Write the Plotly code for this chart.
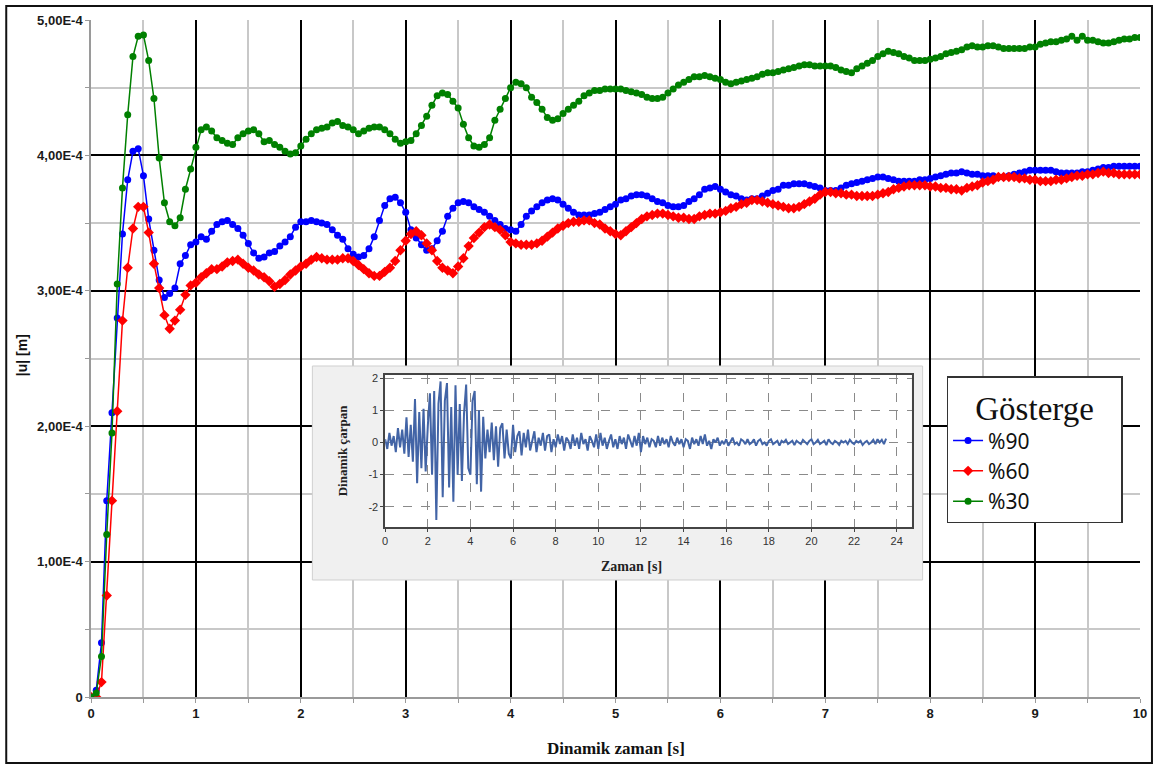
import plotly.graph_objects as go

# ---------------- main chart data (|u| in units of 1E-4 m) ----------------
t_main = [round(0.05 * i, 2) for i in range(201)]

u90 = [
    0.0, 0.05, 0.40, 1.45, 2.10, 2.80, 3.42, 3.82, 4.03, 4.05, 3.85, 3.53, 3.30, 3.08, 2.95, 2.98, 3.02, 3.20, 3.26, 3.34,
    3.36, 3.40, 3.38, 3.44, 3.49, 3.51, 3.52, 3.49, 3.46, 3.41, 3.35, 3.28, 3.24, 3.25, 3.28, 3.29, 3.33, 3.36, 3.40, 3.47,
    3.51, 3.51, 3.52, 3.51, 3.50, 3.49, 3.45, 3.41, 3.38, 3.31, 3.27, 3.25, 3.26, 3.31, 3.40, 3.52, 3.63, 3.68, 3.69, 3.65,
    3.58, 3.45, 3.39, 3.34, 3.30, 3.31, 3.37, 3.44, 3.55, 3.61, 3.65, 3.66, 3.65, 3.62, 3.60, 3.58, 3.55, 3.52, 3.49, 3.46,
    3.45, 3.44, 3.49, 3.55, 3.59, 3.62, 3.65, 3.67, 3.68, 3.67, 3.64, 3.61, 3.58, 3.56, 3.56, 3.56, 3.57, 3.58, 3.60, 3.62,
    3.64, 3.67, 3.68, 3.70, 3.71, 3.71, 3.70, 3.68, 3.66, 3.65, 3.63, 3.62, 3.62, 3.63, 3.66, 3.68, 3.71, 3.75, 3.76, 3.77,
    3.75, 3.73, 3.71, 3.70, 3.68, 3.67, 3.68, 3.68, 3.70, 3.72, 3.74, 3.75, 3.78, 3.78, 3.79, 3.79, 3.79, 3.78, 3.77, 3.76,
    3.74, 3.74, 3.74, 3.76, 3.78, 3.79, 3.80, 3.81, 3.82, 3.83, 3.84, 3.84, 3.83, 3.82, 3.81, 3.81, 3.81, 3.81, 3.82, 3.82,
    3.83, 3.84, 3.85, 3.86, 3.87, 3.87, 3.88, 3.87, 3.86, 3.86, 3.85, 3.85, 3.85, 3.84, 3.84, 3.85, 3.86, 3.87, 3.88, 3.89,
    3.89, 3.89, 3.89, 3.89, 3.88, 3.87, 3.87, 3.87, 3.87, 3.88, 3.88, 3.89, 3.90, 3.91, 3.91, 3.92, 3.92, 3.92, 3.92, 3.92,
    3.92,
]

u60 = [
    0.0, 0.0, 0.11, 0.75, 1.45, 2.11, 2.78, 3.17, 3.46, 3.62, 3.62, 3.43, 3.20, 3.02, 2.82, 2.72, 2.78, 2.86, 2.97, 3.04,
    3.06, 3.10, 3.13, 3.16, 3.16, 3.18, 3.21, 3.22, 3.23, 3.20, 3.17, 3.15, 3.12, 3.10, 3.07, 3.03, 3.05, 3.08, 3.12, 3.15,
    3.18, 3.20, 3.23, 3.25, 3.24, 3.23, 3.23, 3.23, 3.24, 3.24, 3.22, 3.19, 3.16, 3.13, 3.11, 3.11, 3.14, 3.17, 3.22, 3.30,
    3.37, 3.42, 3.44, 3.41, 3.35, 3.30, 3.22, 3.17, 3.15, 3.13, 3.18, 3.24, 3.33, 3.39, 3.43, 3.47, 3.49, 3.47, 3.45, 3.41,
    3.36, 3.35, 3.34, 3.34, 3.34, 3.35, 3.37, 3.40, 3.43, 3.46, 3.48, 3.50, 3.51, 3.51, 3.52, 3.52, 3.50, 3.49, 3.46, 3.44,
    3.42, 3.41, 3.44, 3.47, 3.50, 3.53, 3.55, 3.56, 3.57, 3.57, 3.56, 3.55, 3.54, 3.54, 3.53, 3.53, 3.55, 3.56, 3.57, 3.57,
    3.58, 3.59, 3.61, 3.62, 3.64, 3.65, 3.67, 3.67, 3.66, 3.65, 3.64, 3.63, 3.62, 3.61, 3.61, 3.62, 3.64, 3.66, 3.68, 3.71,
    3.73, 3.73, 3.72, 3.72, 3.71, 3.71, 3.70, 3.70, 3.70, 3.70, 3.71, 3.72, 3.73, 3.75, 3.76, 3.77, 3.78, 3.78, 3.78, 3.78,
    3.77, 3.77, 3.76, 3.76, 3.75, 3.75, 3.74, 3.76, 3.77, 3.78, 3.80, 3.81, 3.82, 3.84, 3.84, 3.84, 3.84, 3.83, 3.83, 3.82,
    3.82, 3.81, 3.81, 3.81, 3.82, 3.82, 3.83, 3.84, 3.85, 3.85, 3.86, 3.86, 3.87, 3.88, 3.87, 3.87, 3.86, 3.86, 3.86, 3.86,
    3.86,
]

u30 = [
    0.0, 0.03, 0.30, 1.20, 1.95, 3.05, 3.76, 4.30, 4.73, 4.88, 4.89, 4.70, 4.42, 3.98, 3.65, 3.51, 3.48, 3.54, 3.75, 3.90,
    4.06, 4.19, 4.21, 4.18, 4.13, 4.11, 4.09, 4.08, 4.13, 4.16, 4.18, 4.19, 4.16, 4.10, 4.11, 4.08, 4.06, 4.03, 4.01, 4.02,
    4.07, 4.12, 4.16, 4.19, 4.20, 4.21, 4.24, 4.25, 4.22, 4.21, 4.19, 4.16, 4.18, 4.20, 4.21, 4.21, 4.19, 4.16, 4.12, 4.09,
    4.10, 4.11, 4.16, 4.22, 4.29, 4.37, 4.44, 4.46, 4.45, 4.40, 4.35, 4.23, 4.13, 4.07, 4.06, 4.08, 4.13, 4.26, 4.34, 4.42,
    4.50, 4.54, 4.53, 4.50, 4.43, 4.39, 4.34, 4.28, 4.26, 4.27, 4.31, 4.34, 4.37, 4.40, 4.44, 4.46, 4.48, 4.48, 4.49, 4.49,
    4.49, 4.49, 4.48, 4.47, 4.46, 4.45, 4.43, 4.42, 4.42, 4.43, 4.46, 4.49, 4.52, 4.54, 4.56, 4.58, 4.58, 4.59, 4.58, 4.57,
    4.56, 4.54, 4.53, 4.54, 4.55, 4.56, 4.57, 4.58, 4.60, 4.61, 4.61, 4.62, 4.63, 4.64, 4.65, 4.66, 4.67, 4.67, 4.66, 4.66,
    4.66, 4.66, 4.65, 4.63, 4.62, 4.61, 4.64, 4.66, 4.68, 4.70, 4.73, 4.75, 4.77, 4.76, 4.75, 4.73, 4.72, 4.70, 4.70, 4.70,
    4.71, 4.72, 4.73, 4.75, 4.76, 4.77, 4.78, 4.80, 4.81, 4.80, 4.80, 4.81, 4.81, 4.80, 4.79, 4.79, 4.79, 4.79, 4.79, 4.80,
    4.80, 4.82, 4.83, 4.84, 4.84, 4.85, 4.86, 4.88, 4.85, 4.88, 4.85, 4.85, 4.84, 4.83, 4.83, 4.84, 4.85, 4.86, 4.86, 4.87,
    4.87,
]

series_names = ["%90", "%60", "%30"]
series_colors = ["#0000ff", "#ff0000", "#008000"]
series_symbols = ["circle", "diamond", "circle"]
legend_title = "Gösterge"

y_tick_vals_e4 = [0, 1, 2, 3, 4, 5]
y_tick_text = ["0", "1,00E-4", "2,00E-4", "3,00E-4", "4,00E-4", "5,00E-4"]
x_tick_vals = [0, 1, 2, 3, 4, 5, 6, 7, 8, 9, 10]

# ---------------- inset data (dynamic multiplier vs time) ----------------
acc_t = [round(0.1 * i, 1) for i in range(236)]
acc = [
    0.10, -0.20, 0.30, -0.10, 0.20, -0.30, 0.45, -0.15, 0.40, -0.35,
    0.78, -0.45, 0.55, -0.60, 1.35, -1.27, 0.95, -0.80, 1.05, -0.90,
    0.50, 1.53, -1.00, 1.60, -2.41, 1.20, 1.90, -1.70, 1.30, 1.85,
    -1.40, 1.10, -1.84, 1.78, -1.00, 1.20, -1.20, 0.90, 1.80, -0.80,
    -1.00, 1.30, 1.60, -1.30, 1.00, -1.53, 0.80, -0.50, 0.40, -0.30,
    0.62, -0.55, 0.50, -0.75, 0.45, 0.60, -0.50, 0.40, -0.35, -0.50,
    0.55, -0.30, 0.20, 0.35, -0.40, 0.30, -0.15, 0.40, -0.25, 0.10,
    0.35, -0.30, 0.15, -0.10, 0.30, -0.25, 0.20, 0.25, -0.30, 0.10,
    -0.15, 0.25, -0.05, 0.20, -0.25, 0.15, 0.05, -0.20, 0.25, -0.10,
    0.15, -0.20, 0.30, -0.05, 0.10, -0.25, 0.20, 0.05, -0.15, 0.25,
    -0.20, 0.30, -0.10, 0.15, -0.20, 0.05, 0.25, -0.15, 0.10, -0.20,
    0.20, -0.05, 0.15, -0.20, 0.25, 0.05, -0.15, 0.20, -0.10, 0.30,
    -0.30, 0.20, -0.05, 0.15, -0.15, 0.10, 0.05, -0.15, 0.20, -0.10,
    0.15, -0.05, 0.10, -0.15, 0.20, 0.00, -0.10, 0.15, -0.05, 0.10,
    -0.15, 0.10, 0.05, -0.20, 0.15, -0.05, 0.10, -0.10, 0.20, -0.05,
    0.25, -0.10, 0.05, -0.20, 0.10, 0.00, 0.15, -0.10, 0.05, -0.05,
    0.10, -0.10, 0.05, 0.15, -0.05, 0.00, -0.10, 0.10, 0.05, -0.05,
    0.10, -0.05, 0.00, 0.10, -0.10, 0.05, 0.10, -0.05, 0.00, -0.10,
    0.05, 0.10, -0.05, 0.00, 0.05, -0.10, 0.05, 0.00, 0.08, -0.05,
    0.00, 0.05, -0.08, 0.05, 0.00, -0.05, 0.08, 0.00, -0.05, 0.05,
    0.10, -0.05, 0.00, 0.08, -0.05, 0.00, 0.05, -0.08, 0.10, 0.00,
    -0.05, 0.05, 0.00, -0.08, 0.05, 0.00, 0.05, -0.05, 0.08, 0.00,
    -0.05, 0.05, 0.00, 0.05, -0.08, 0.00, 0.05, -0.05, 0.00, 0.08,
    -0.05, 0.10, 0.00, 0.08, -0.05, 0.12,
]
inset_x_ticks = [0, 2, 4, 6, 8, 10, 12, 14, 16, 18, 20, 22, 24]
inset_y_ticks = [-2, -1, 0, 1, 2]
inset_y_text = ["-2", "-1", "0", "1", "2"]

# ---------------- geometry (pixels) ----------------
W, H = 1159, 766
PL, PR, PT, PB = 91, 1143, 20, 697


def px(xp):
    return (xp - PL) / (PR - PL)


def py(yp):
    return (PB - yp) / (PB - PT)


fig = go.Figure()

# main traces
for name, vals, col, sym in zip(series_names, [u90, u60, u30], series_colors, series_symbols):
    fig.add_trace(go.Scatter(
        x=t_main, y=[v * 1e-4 for v in vals], name=name, mode="lines+markers",
        line=dict(color=col, width=1.5),
        marker=dict(color=col, size=7 if sym == "circle" else 8, symbol=sym),
        xaxis="x", yaxis="y",
    ))

# inset background box (separate hidden subplot, drawn above main subplot)
fig.add_trace(go.Scatter(
    x=[0, 1, 1, 0, 0], y=[0, 0, 1, 1, 0], xaxis="x2", yaxis="y2",
    mode="lines", fill="toself", fillcolor="#f0f0f0", line=dict(width=0, color="#f0f0f0"),
    hoverinfo="skip", showlegend=False,
))

# inset trace
fig.add_trace(go.Scatter(
    x=acc_t, y=acc, xaxis="x3", yaxis="y3", mode="lines",
    line=dict(color="#4264a6", width=2), showlegend=False, hoverinfo="skip",
))

tickfont_main = dict(family="Liberation Sans", size=13, color="#1a1a1a", weight="bold")
pad = "\u00a0" * 3

fig.update_layout(
    width=W, height=H,
    margin=dict(l=PL, r=W - PR, t=PT, b=H - PB),
    paper_bgcolor="white", plot_bgcolor="white",
    showlegend=True,
    xaxis=dict(
        domain=[0, 1], anchor="y", range=[0, 10],
        tickmode="array", tickvals=x_tick_vals, ticktext=[str(v) for v in x_tick_vals],
        showgrid=True, gridcolor="#000000", gridwidth=1.5, zeroline=False,
        showline=True, linecolor="#9a9a9a", linewidth=1.5,
        ticks="outside", ticklen=4, tickcolor="#9a9a9a", tickwidth=1,
        tickfont=tickfont_main,
        minor=dict(tickvals=[v + 0.5 for v in x_tick_vals[:-1]], showgrid=True,
                   gridcolor="#c8c8c8", gridwidth=1.5, ticks="outside", ticklen=4,
                   tickcolor="#9a9a9a"),
    ),
    yaxis=dict(
        domain=[0, 1], anchor="x", range=[0, 5e-4],
        tickmode="array", tickvals=[v * 1e-4 for v in y_tick_vals_e4], ticktext=y_tick_text,
        showgrid=True, gridcolor="#000000", gridwidth=1.5, zeroline=False,
        showline=True, linecolor="#9a9a9a", linewidth=1.5,
        ticks="outside", ticklen=4, tickcolor="#9a9a9a", tickwidth=1,
        tickfont=tickfont_main,
        minor=dict(tickvals=[(v + 0.5) * 1e-4 for v in y_tick_vals_e4[:-1]], showgrid=True,
                   gridcolor="#c8c8c8", gridwidth=1.5, ticks="outside", ticklen=4,
                   tickcolor="#9a9a9a"),
    ),
    xaxis2=dict(domain=[px(313), px(925)], anchor="y2", range=[0, 1], visible=False, fixedrange=True),
    yaxis2=dict(domain=[py(580), py(366)], anchor="x2", range=[0, 1], visible=False, fixedrange=True),
    xaxis3=dict(
        domain=[px(386), px(914)], anchor="y3", range=[0, 24.7],
        tickmode="array", tickvals=inset_x_ticks,
        showgrid=True, gridcolor="#8a8a8a", griddash="dash", gridwidth=1, zeroline=False,
        showline=True, mirror=True, linecolor="#444444", linewidth=1.5,
        ticks="outside", ticklen=3, tickcolor="#444444",
        tickfont=dict(family="Liberation Sans", size=11, color="#333333"),
    ),
    yaxis3=dict(
        domain=[py(527), py(375)], anchor="x3", range=[-2.63, 2.1],
        tickmode="array", tickvals=inset_y_ticks, ticktext=inset_y_text,
        showgrid=True, gridcolor="#8a8a8a", griddash="dash", gridwidth=1, zeroline=False,
        showline=True, mirror=True, linecolor="#444444", linewidth=1.5,
        ticks="outside", ticklen=3, tickcolor="#444444",
        tickfont=dict(family="Liberation Sans", size=11, color="#333333"),
    ),
    legend=dict(
        x=px(949), y=py(376), xanchor="left", yanchor="top",
        bgcolor="white", bordercolor="#333333", borderwidth=1.5,
        font=dict(family="Noto Sans", size=21, color="#111111"),
        title=dict(text=pad + legend_title + pad,
                   font=dict(family="Liberation Serif", size=33, color="#111111"),
                   side="top center"),
        itemwidth=30, tracegroupgap=0,
    ),
    annotations=[
        dict(text="<b>|u| [m]</b>", x=px(22), y=py(355), xref="paper", yref="paper",
             textangle=-90, showarrow=False, xanchor="center", yanchor="middle",
             font=dict(family="Liberation Sans", size=14, color="#111111")),
        dict(text="<b>Dinamik zaman [s]</b>", x=px(617), y=py(748), xref="paper", yref="paper",
             showarrow=False, xanchor="center", yanchor="middle",
             font=dict(family="Liberation Serif", size=17, color="#111111")),
        dict(text="<b>Dinamik çarpan</b>", x=px(343), y=py(451), xref="paper", yref="paper",
             textangle=-90, showarrow=False, xanchor="center", yanchor="middle",
             font=dict(family="Liberation Serif", size=13, color="#222222")),
        dict(text="<b>Zaman [s]</b>", x=px(633), y=py(566), xref="paper", yref="paper",
             showarrow=False, xanchor="center", yanchor="middle",
             font=dict(family="Liberation Serif", size=14, color="#222222")),
    ],
    shapes=[
        dict(type="rect", xref="paper", yref="paper", x0=px(6), x1=px(1155), y0=py(763), y1=py(6),
             line=dict(color="#111111", width=2), layer="above"),
        dict(type="rect", xref="paper", yref="paper", x0=px(313), x1=px(925), y0=py(580), y1=py(366),
             line=dict(color="#cfcfcf", width=1), layer="above"),
    ],
)

fig.write_html("out.html")
